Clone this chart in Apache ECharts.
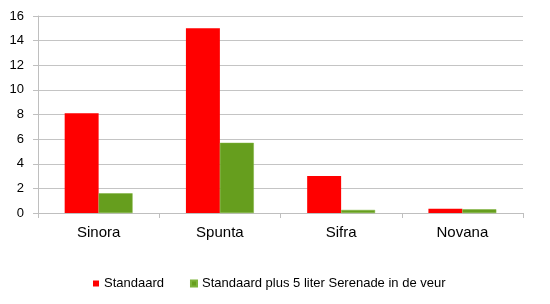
<!DOCTYPE html>
<html><head><meta charset="utf-8">
<script src="https://cdn.jsdelivr.net/npm/echarts@6/dist/echarts.min.js"></script>
<style>html,body{margin:0;padding:0;background:#fff}#c{width:550px;height:304px}</style>
</head><body><div id="c"></div>
<script>
var categories = ['Sinora', 'Spunta', 'Sifra', 'Novana'];
var seriesNames = ['Standaard', 'Standaard plus 5 liter Serenade in de veur'];
var standaard = [8.1, 15.0, 3.0, 0.35];
var serenade = [1.6, 5.7, 0.25, 0.3];
var yTicks = [0, 2, 4, 6, 8, 10, 12, 14, 16];

var chart = echarts.init(document.getElementById('c'), null, {renderer: 'canvas'});
var font = 'Liberation Sans, Arial, sans-serif';
chart.setOption({
  animation: false,
  grid: {left: 38, right: 27, top: 16, bottom: 91, containLabel: false},
  legend: {
    bottom: 9, left: 88, itemWidth: 6, itemHeight: 6, itemGap: 26, itemTextGap: 5, icon: 'rect',
    textStyle: {fontFamily: font, fontSize: 13, color: '#000'},
    data: seriesNames
  },
  xAxis: {
    type: 'category', data: categories,
    axisLine: {lineStyle: {color: '#bfbfbf', width: 1}},
    axisTick: {show: true, length: 5, lineStyle: {color: '#bfbfbf'}},
    axisLabel: {fontFamily: font, fontSize: 15, color: '#000', margin: 12}
  },
  yAxis: {
    type: 'value', min: yTicks[0], max: yTicks[yTicks.length - 1], interval: 2,
    axisLine: {show: true, lineStyle: {color: '#bfbfbf', width: 1}},
    axisTick: {show: true, length: 5, lineStyle: {color: '#bfbfbf'}},
    splitLine: {lineStyle: {color: '#c4c4c4', width: 1}},
    axisLabel: {fontFamily: font, fontSize: 13, color: '#000', margin: 14}
  },
  series: [
    {name: seriesNames[0], type: 'bar', data: standaard, barGap: '0%', barCategoryGap: '44%',
     itemStyle: {color: '#ff0000'}},
    {name: seriesNames[1], type: 'bar', data: serenade,
     itemStyle: {color: '#669e1e', borderColor: '#7db33a', borderWidth: 0.5}}
  ]
});
</script></body></html>
